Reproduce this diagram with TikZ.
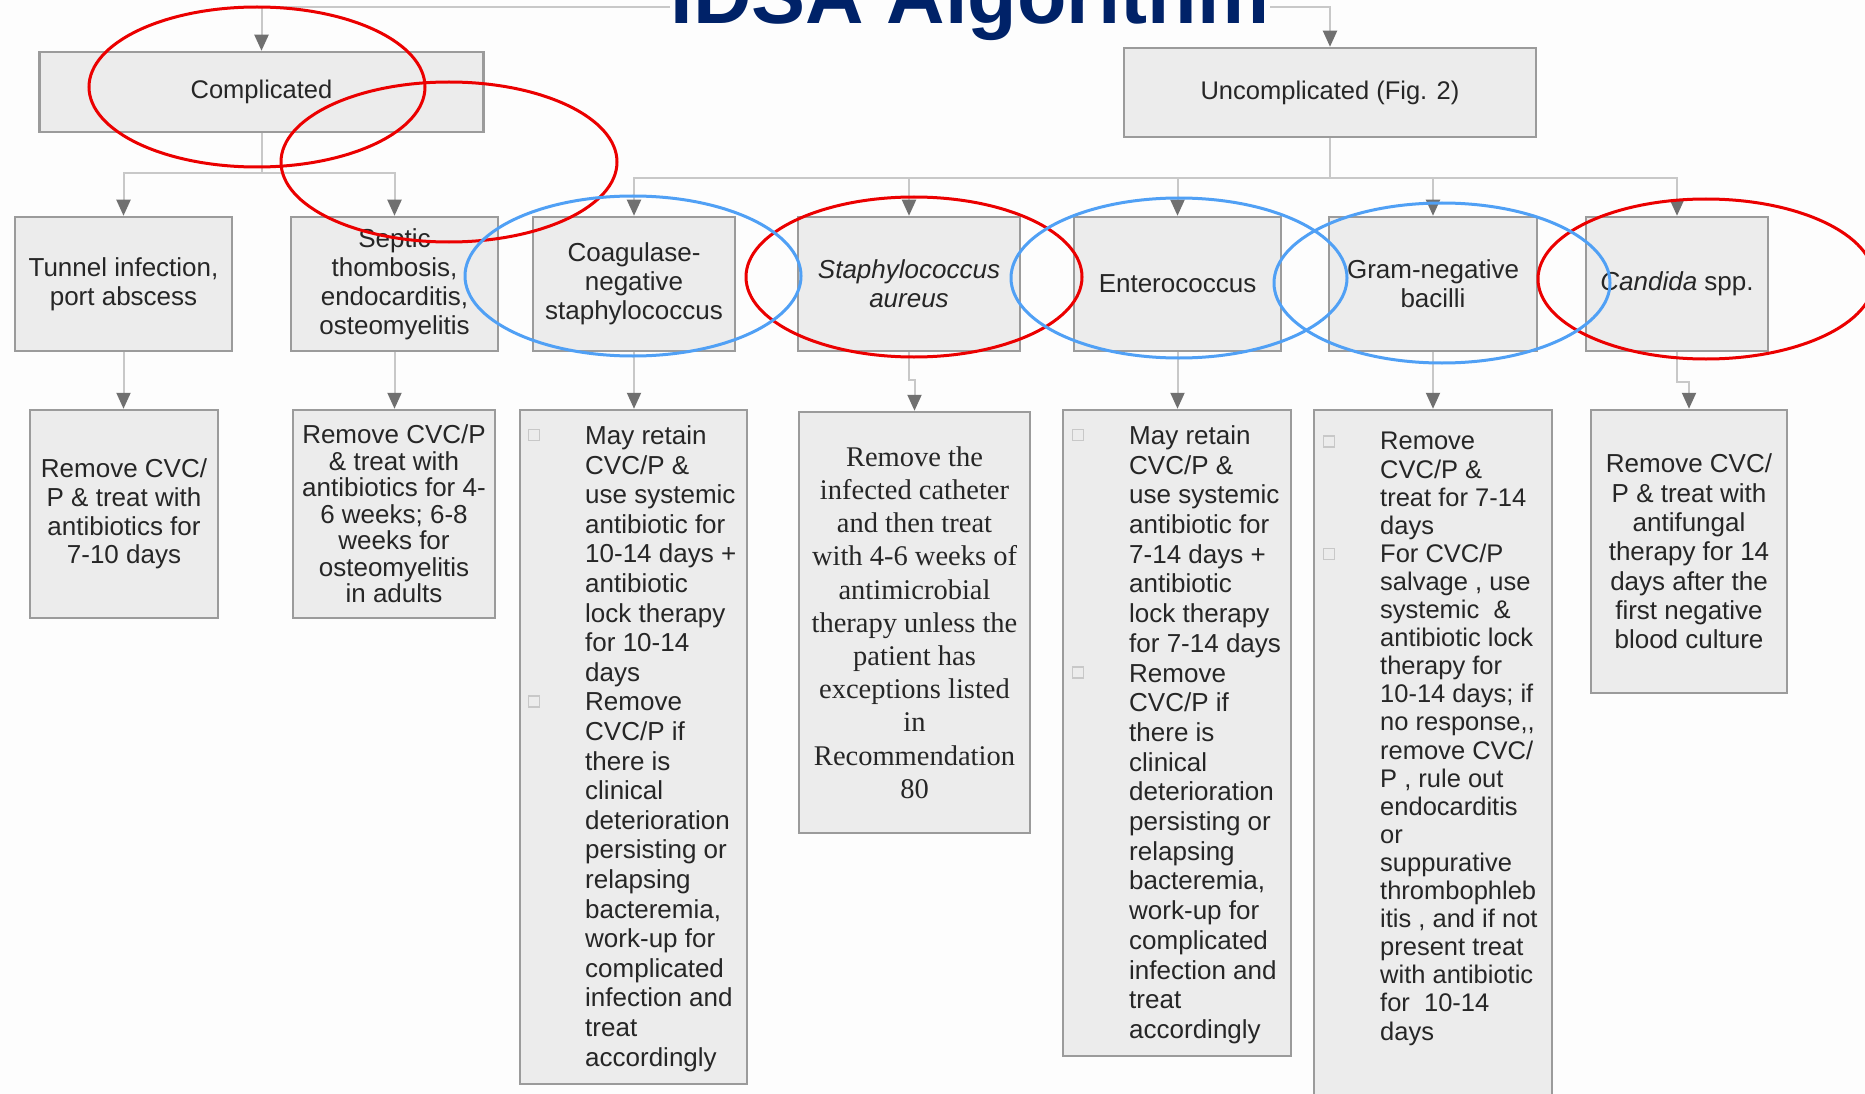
\documentclass[tikz,border=0pt]{standalone}
\usepackage{fontspec}
\setmainfont{Liberation Sans}
\newfontfamily\serifont{Liberation Serif}
\usetikzlibrary{arrows.meta,shapes.geometric}
\definecolor{bgc}{RGB}{253,253,253}
\definecolor{boxfill}{RGB}{236,236,236}
\definecolor{boxline}{RGB}{155,155,155}
\definecolor{linec}{RGB}{200,200,200}
\definecolor{tipc}{RGB}{112,112,112}
\definecolor{txt}{RGB}{38,38,38}
\definecolor{navy}{RGB}{0,34,104}
\definecolor{annred}{RGB}{235,0,0}
\definecolor{annblue}{RGB}{80,160,245}
\newcommand\myfs[2]{\fontsize{#1}{#2}\selectfont}
\begin{document}
\begin{tikzpicture}[x=1pt,y=-1pt,
  box/.style={draw=boxline, fill=boxfill, line width=2.5pt, inner sep=2pt, text=txt, align=center},
  toptxt/.style={font=\myfs{26}{29}},
  conn/.style={draw=linec, line width=2pt},
  arr/.style={conn, -{Triangle[width=14pt,length=16pt,color=tipc]}},
  chk/.style={draw=linec, line width=1.3pt, minimum size=11pt, inner sep=0pt},
  listtxt/.style={anchor=north west, inner sep=0pt, align=left, text=txt},
  ring/.style={ellipse, draw, line width=3pt, minimum width=336pt, minimum height=160pt, inner sep=0pt}
]
\useasboundingbox (0,0) rectangle (1865,1094);
\fill[bgc] (0,0) rectangle (1865,1094);
\clip (0,0) rectangle (1865,1094);

% level 1
\node[box, minimum width=444pt, minimum height=80pt, font=\myfs{25.5}{28}] (comp) at (261.5,92) {Complicated};
\node[box, minimum width=412pt, minimum height=89pt, font=\myfs{25.5}{28}] (uncomp) at (1330,92.5) {Uncomplicated (Fig. 2)};

% level 2
\node[box, toptxt, minimum width=217pt, minimum height=134pt] (tunnel) at (123.5,284) {Tunnel infection,\\port abscess};
\node[box, toptxt, minimum width=207pt, minimum height=134pt] (septic) at (394.5,284) {Septic\\thombosis,\\endocarditis,\\osteomyelitis};
\node[box, toptxt, minimum width=202pt, minimum height=134pt] (coag) at (634,284) {Coagulase-\\negative\\staphylococcus};
\node[box, toptxt, minimum width=222pt, minimum height=134pt] (staph) at (909,284) {\textit{Staphylococcus}\\\textit{aureus}};
\node[box, toptxt, minimum width=207pt, minimum height=134pt] (entero) at (1177.5,284) {Enterococcus};
\node[box, toptxt, minimum width=208pt, minimum height=134pt] (gram) at (1433,284) {Gram-negative\\bacilli};
\node[box, toptxt, minimum width=182pt, minimum height=134pt] (cand) at (1677,284) {\textit{Candida} spp.};

% level 3
\node[box, font=\myfs{26}{28.7}, minimum width=188pt, minimum height=208pt] (A) at (124,514) {Remove CVC/\\P \& treat with\\antibiotics for\\7-10 days};
\node[box, font=\myfs{26}{26.5}, minimum width=202pt, minimum height=208pt] (B) at (394,514) {Remove CVC/P\\\& treat with\\antibiotics for 4-\\6 weeks; 6-8\\weeks for\\osteomyelitis\\in adults};
\node[box, minimum width=227pt, minimum height=674pt] (C) at (633.5,747) {};
\node[box, font=\serifont\myfs{28.5}{33.2}, minimum width=231pt, minimum height=421pt] (D) at (914.5,622.5) {Remove the\\infected catheter\\and then treat\\with 4-6 weeks of\\antimicrobial\\therapy unless the\\patient has\\exceptions listed\\in\\Recommendation\\80};
\node[box, minimum width=228pt, minimum height=646pt] (E) at (1177,733) {};
\node[box, minimum width=238pt, minimum height=710pt] (F) at (1433,765) {};
\node[box, font=\myfs{26}{29.3}, minimum width=196pt, minimum height=283pt] (G) at (1689,551.5) {Remove CVC/\\P \& treat with\\antifungal\\therapy for 14\\days after the\\first negative\\blood culture};

% list texts
\node[listtxt, font=\myfs{26}{29.6}] (Ctext) at (585,425.4) {May retain\\CVC/P \&\\use systemic\\antibiotic for\\10-14 days +\\antibiotic\\lock therapy\\for 10-14\\days\\Remove\\CVC/P if\\there is\\clinical\\deterioration\\persisting or\\relapsing\\bacteremia,\\work-up for\\complicated\\infection and\\treat\\accordingly};
\node[chk] (Cc1) at (534,435) {};
\node[chk] (Cc2) at (534,701.4) {};

\node[listtxt, font=\myfs{26}{29.7}] (Etext) at (1129,425.4) {May retain\\CVC/P \&\\use systemic\\antibiotic for\\7-14 days +\\antibiotic\\lock therapy\\for 7-14 days\\Remove\\CVC/P if\\there is\\clinical\\deterioration\\persisting or\\relapsing\\bacteremia,\\work-up for\\complicated\\infection and\\treat\\accordingly};
\node[chk] (Ec1) at (1078,435) {};
\node[chk] (Ec2) at (1078,672.6) {};

\node[listtxt, font=\myfs{25.5}{28.1}] (Ftext) at (1380,432.2) {Remove\\CVC/P \&\\treat for 7-14\\days\\For CVC/P\\salvage , use\\systemic~~\&\\antibiotic lock\\therapy for\\10-14 days; if\\no response,{},\\remove CVC/\\P , rule out\\endocarditis\\or\\suppurative\\thrombophleb\\itis , and if not\\present treat\\with antibiotic\\for~~10-14\\days};
\node[chk] (Fc1) at (1329,441.5) {};
\node[chk] (Fc2) at (1329,554) {};

% connectors
\coordinate (tj) at (795,7);
\draw[arr] (tj) -| (comp.north);
\draw[arr] (tj) -| (uncomp.north);

\coordinate (cj) at (261.5,173);
\draw[conn] (comp.south) -- (cj);
\draw[arr] (cj) -| (tunnel.north);
\draw[arr] (cj) -| (septic.north);

\coordinate (uj) at (1330,178);
\draw[conn] (uncomp.south) -- (uj);
\foreach \n in {coag,staph,entero,gram,cand} \draw[arr] (uj) -| (\n.north);

\draw[arr] (tunnel.south) -- (tunnel.south |- A.north);
\draw[arr] (septic.south) -- (septic.south |- B.north);
\draw[arr] (coag.south) -- (coag.south |- C.north);
\draw[arr] (staph.south) -- ++(0,28) -| (D.north);
\draw[arr] (entero.south) -- (entero.south |- E.north);
\draw[arr] (gram.south) -- (gram.south |- F.north);
\draw[arr] (cand.south) -- ++(0,30) -| (G.north);

% title
\node[anchor=base, inner sep=1pt, fill=bgc, text=navy, font=\bfseries\myfs{81}{81}] (title) at (970,24) {IDSA Algorithm};

% annotation ellipses
\node[ring, draw=annred] (r1) at (257,87) {};
\node[ring, draw=annred] (r2) at (449,162) {};
\node[ring, draw=annred] (r3) at (914,277) {};
\node[ring, draw=annred] (r4) at (1706,279) {};
\node[ring, draw=annblue] (b1) at (633,276) {};
\node[ring, draw=annblue] (b2) at (1179,278) {};
\node[ring, draw=annblue] (b3) at (1442,283) {};
\end{tikzpicture}
\end{document}
